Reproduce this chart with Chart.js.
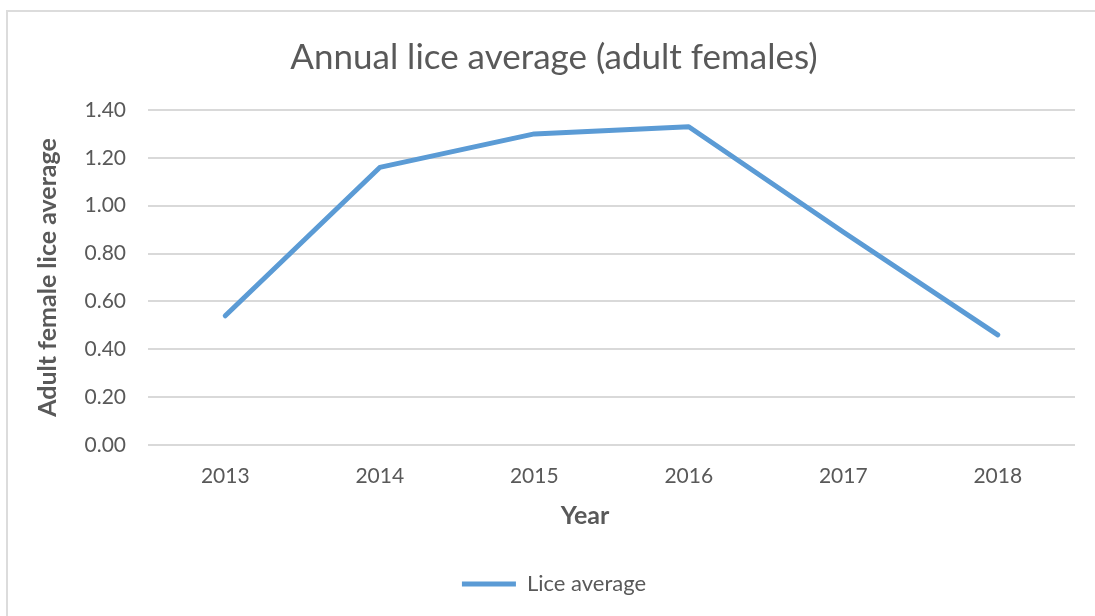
<!DOCTYPE html>
<html>
<head>
<meta charset="utf-8">
<script src="https://cdn.jsdelivr.net/npm/chart.js@4.4.1/dist/chart.umd.min.js"></script>
<style>
  html, body { margin: 0; padding: 0; background: #ffffff; overflow: hidden; }
  #frame { position: absolute; left: 6px; top: 10px; width: 1200px; height: 700px; border: 2px solid #dcdcdc; box-sizing: border-box; }
  #wrap { position: absolute; left: 0; top: 0; width: 1095px; height: 616px; }
</style>
</head>
<body>
<div id="frame"></div>
<div id="wrap"><canvas id="c" width="1095" height="616"></canvas></div>
<script>
const years = ['2013', '2014', '2015', '2016', '2017', '2018'];
const liceAverage = [0.54, 1.16, 1.30, 1.33, 0.89, 0.46];
const seriesName = 'Lice average';
const chartTitle = 'Annual lice average (adult females)';
const yAxisTitle = 'Adult female lice average';
const xAxisTitle = 'Year';

const TEXT = '#595959';
const FONT = 'Lato, "Open Sans", sans-serif';

const xTitlePlugin = {
  id: 'xTitle',
  afterDraw(chart) {
    const ctx = chart.ctx;
    ctx.save();
    ctx.font = 'bold 25px ' + FONT;
    ctx.fillStyle = TEXT;
    ctx.textAlign = 'center';
    ctx.textBaseline = 'middle';
    ctx.fillText(xAxisTitle, 585, 516);
    ctx.restore();
  }
};

new Chart(document.getElementById('c'), {
  type: 'line',
  data: {
    labels: years,
    datasets: [{
      label: seriesName,
      data: liceAverage,
      borderColor: '#5b9bd5',
      backgroundColor: '#5b9bd5',
      borderWidth: 5,
      borderCapStyle: 'round',
      borderJoinStyle: 'round',
      pointRadius: 0,
      pointHoverRadius: 0,
      pointStyle: 'line',
      tension: 0,
      fill: false
    }]
  },
  plugins: [xTitlePlugin],
  options: {
    responsive: false,
    animation: false,
    devicePixelRatio: 1,
    layout: { padding: { left: 33, right: 20, top: 0, bottom: 11 } },
    plugins: {
      title: {
        display: true,
        text: chartTitle,
        color: TEXT,
        font: { family: FONT, size: 35, weight: 'normal' },
        padding: { top: 37, bottom: 31 }
      },
      legend: {
        position: 'bottom',
        labels: {
          color: TEXT,
          font: { family: FONT, size: 22 },
          usePointStyle: true,
          pointStyle: 'line',
          pointStyleWidth: 54,
          boxHeight: 5,
          padding: 9
        }
      },
      tooltip: { enabled: false }
    },
    scales: {
      x: {
        offset: true,
        grid: { display: false, drawTicks: false },
        border: { display: false },
        ticks: { color: TEXT, font: { family: FONT, size: 21 }, padding: 19, maxRotation: 0 },
        afterFit(scale) { scale.height = 119; }
      },
      y: {
        min: 0,
        max: 1.4,
        grid: { color: '#d9d9d9', lineWidth: 2, drawTicks: false },
        border: { display: false },
        ticks: {
          stepSize: 0.2,
          color: TEXT,
          font: { family: FONT, size: 21 },
          padding: 22,
          callback: (v) => Number(v).toFixed(2)
        },
        title: {
          display: true,
          text: yAxisTitle,
          color: TEXT,
          font: { family: FONT, size: 25, weight: 'bold' },
          padding: { top: 0, bottom: 0 }
        },
        afterFit(scale) { scale.width = 115; }
      }
    }
  }
});
</script>
</body>
</html>
